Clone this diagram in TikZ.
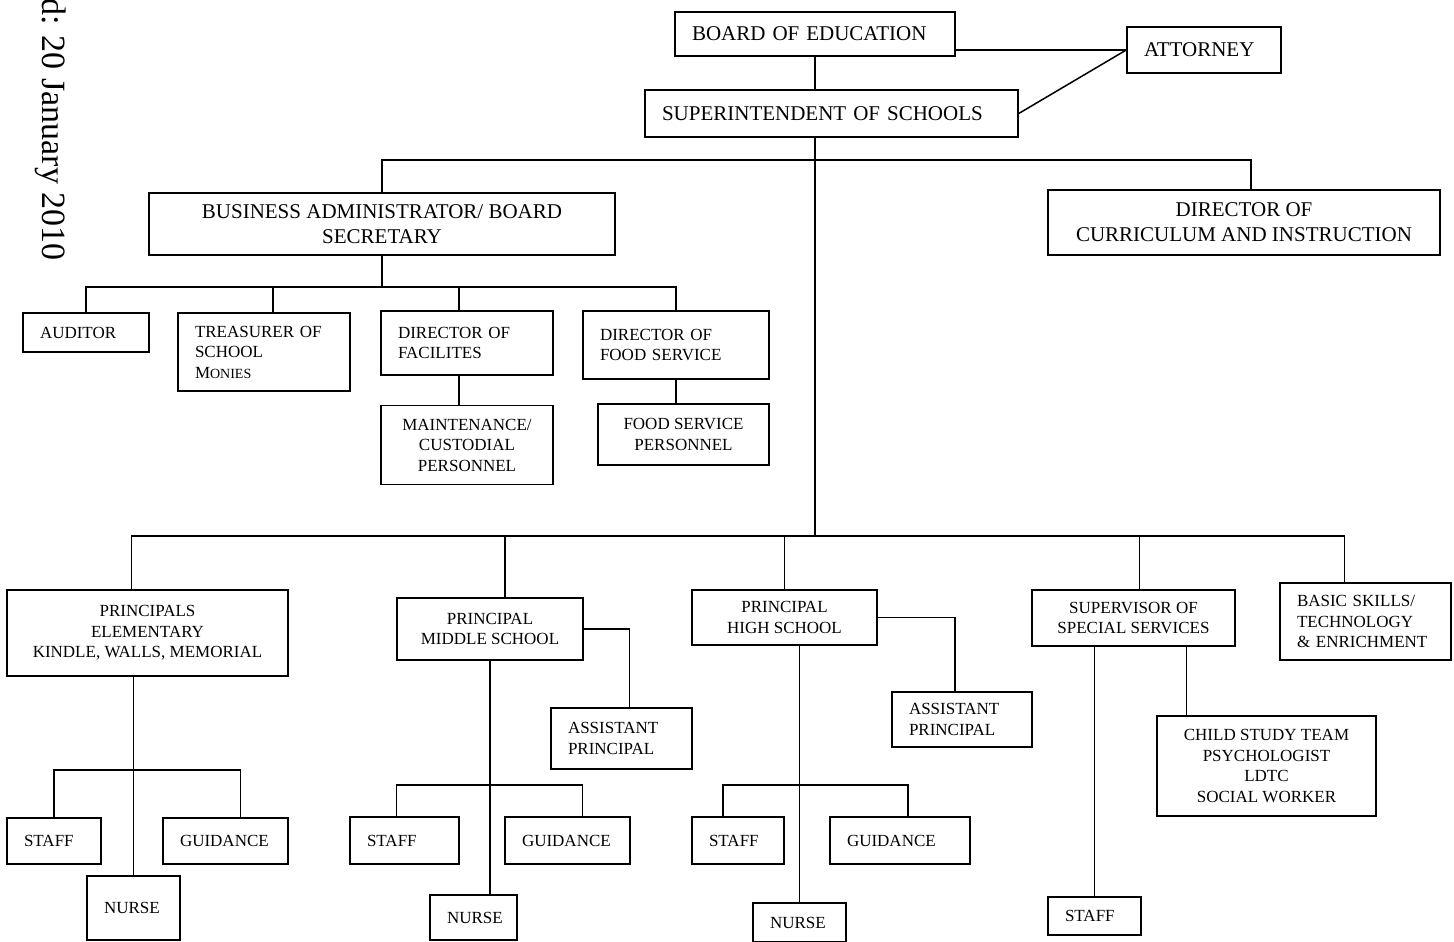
\documentclass[tikz,border=0pt]{standalone}
\usepackage{fontspec}
\setmainfont{Liberation Serif}
\usetikzlibrary{positioning}
\newcommand{\boxbig}{\fontsize{21}{25}\selectfont}
\newcommand{\boxsmall}{\fontsize{17}{20.5}\selectfont}

\begin{document}
\begin{tikzpicture}[
    x=1pt, y=-1pt,
    box/.style={draw, line width=1.5pt, inner sep=0pt, align=center, font=\boxsmall},
    bigbox/.style={box, font=\boxbig},
    lbox/.style={box, align=left, inner xsep=17pt},
    lbig/.style={lbox, font=\boxbig},
    link/.style={line width=1.5pt},
]
    \useasboundingbox (0,0) rectangle (1454,942);

    % ====== Date stamp ======
    \node[rotate=-90, anchor=base west, inner sep=0pt, font=\fontsize{34}{34}\selectfont] (date) at (42,-2) {d: 20 January 2010};

    % ====== Board and superintendent ======
    \node[lbig, minimum width=280pt, minimum height=44pt, text width=246pt] (board) at (815,34) {BOARD OF EDUCATION};
    \node[lbig, minimum width=154pt, minimum height=46pt, text width=120pt] (attorney) at (1204,50) {ATTORNEY};
    \node[lbig, minimum width=373pt, minimum height=47pt, text width=339pt] (super) at (831.5,113.5) {SUPERINTENDENT OF SCHOOLS};

    \node[bigbox, minimum width=466pt, minimum height=62pt] (business) at (382,224) {BUSINESS ADMINISTRATOR/ BOARD\\SECRETARY};
    \node[bigbox, minimum width=392pt, minimum height=65pt] (curric) at (1244,222.5) {DIRECTOR OF\\CURRICULUM AND INSTRUCTION};

    % ====== Business office ======
    \node[lbox, minimum width=126pt, minimum height=39pt, text width=92pt] (auditor) at (86,332.5) {AUDITOR};
    \node[lbox, minimum width=172pt, minimum height=78pt, text width=138pt] (treasurer) at (264,352) {TREASURER OF\\SCHOOL\\M{\fontsize{14}{20.5}\selectfont ONIES}};
    \node[lbox, minimum width=172pt, minimum height=64pt, text width=138pt] (facil) at (467,343) {DIRECTOR OF\\FACILITES};
    \node[lbox, minimum width=186pt, minimum height=68pt, text width=152pt] (foodsvc) at (676,345) {DIRECTOR OF\\FOOD SERVICE};
    \node[box, minimum width=172pt, minimum height=79pt, below=29pt of facil] (maint) {MAINTENANCE/\\CUSTODIAL\\PERSONNEL};
    \node[box, minimum width=171pt, minimum height=61pt] (foodpers) at (683.5,434.5) {FOOD SERVICE\\PERSONNEL};

    % ====== Schools ======
    \node[box, minimum width=281pt, minimum height=86pt] (elem) at (147.5,633) {PRINCIPALS\\ELEMENTARY\\KINDLE, WALLS, MEMORIAL};
    \node[lbox, minimum width=94pt, minimum height=46pt, text width=60pt] (estaff) at (54,841) {STAFF};
    \node[lbox, minimum width=125pt, minimum height=46pt, text width=91pt] (eguid) at (225.5,841) {GUIDANCE};
    \node[lbox, minimum width=93pt, minimum height=64pt, text width=59pt] (enurse) at (133.5,908) {NURSE};

    \node[box, minimum width=186pt, minimum height=62pt] (middle) at (490,629) {PRINCIPAL\\MIDDLE SCHOOL};
    \node[lbox, minimum width=141pt, minimum height=61pt, text width=107pt] (massist) at (621.5,738.5) {ASSISTANT\\PRINCIPAL};
    \node[lbox, minimum width=109pt, minimum height=47pt, text width=75pt] (mstaff) at (404.5,840.5) {STAFF};
    \node[lbox, minimum width=125pt, minimum height=47pt, text width=91pt] (mguid) at (567.5,840.5) {GUIDANCE};
    \node[lbox, minimum width=87pt, minimum height=45pt, text width=53pt] (mnurse) at (473.5,917.5) {NURSE};

    \node[box, minimum width=185pt, minimum height=55pt] (high) at (784.5,617.5) {PRINCIPAL\\HIGH SCHOOL};
    \node[lbox, minimum width=140pt, minimum height=55pt, text width=106pt] (hassist) at (962,719.5) {ASSISTANT\\PRINCIPAL};
    \node[lbox, minimum width=92pt, minimum height=47pt, text width=58pt] (hstaff) at (738,840.5) {STAFF};
    \node[lbox, minimum width=140pt, minimum height=47pt, text width=106pt] (hguid) at (900,840.5) {GUIDANCE};
    \node[lbox, minimum width=93pt, minimum height=39pt, text width=59pt] (hnurse) at (799.5,922.5) {NURSE};

    \node[box, minimum width=203pt, minimum height=56pt] (special) at (1133.5,618) {SUPERVISOR OF\\SPECIAL SERVICES};
    \node[lbox, minimum width=93pt, minimum height=38pt, text width=59pt] (sstaff) at (1094.5,916) {STAFF};
    \node[box, minimum width=219pt, minimum height=100pt] (cst) at (1266.5,766) {CHILD STUDY TEAM\\PSYCHOLOGIST\\LDTC\\SOCIAL WORKER};
    \node[lbox, minimum width=171pt, minimum height=77pt, text width=137pt] (basic) at (1365.5,621.5) {BASIC SKILLS/\\TECHNOLOGY\\\& ENRICHMENT};

    % ====== Connectors ======
    \coordinate (topbus) at (815,160);
    \coordinate (bizbus) at (382,287);
    \coordinate (lowbus) at (815,536);
    \coordinate (ebus) at (133,770);
    \coordinate (mbus) at (490,785);
    \coordinate (hbus) at (800,785);

    \draw[link] (board.south) -- (board.south |- super.north);
    \draw[link] (attorney.west -| board.east) -- (attorney.west);
    \draw[link] (super.east) -- (attorney.west);
    \draw[link] (board.south |- super.south) -- (lowbus);
    \draw[link] (business.north) |- (topbus) -| ([xshift=7pt]curric.north);

    \draw[link] (business.south) -- (bizbus);
    \draw[link] (auditor.north) |- (bizbus) -| (foodsvc.north);
    \draw[link] ([xshift=9pt]treasurer.north) -- ([xshift=9pt]treasurer.north |- bizbus);
    \draw[link] ([xshift=-8pt]facil.north) -- ([xshift=-8pt]facil.north |- bizbus);
    \draw[link] ([xshift=-8pt]facil.south) -- ([xshift=-8pt]maint.north);
    \draw[link] (foodsvc.south) -- (foodsvc.south |- foodpers.north);

    \draw[link] ([xshift=-16pt]elem.north) |- (lowbus) -| ([xshift=-21pt]basic.north);
    \foreach \n/\dx in {middle/15, high/0, special/6}
        \draw[link] ([xshift=\dx pt]\n.north) -- ([xshift=\dx pt]\n.north |- lowbus);

    \draw[link] (enurse.north |- elem.south) -- (enurse.north);
    \draw[link] (estaff.north) |- (ebus) -| ([xshift=15pt]eguid.north);

    \draw[link] (middle.east) -| ([xshift=8pt]massist.north);
    \draw[link] (middle.south) -- (middle.south |- mnurse.north);
    \draw[link] ([xshift=-8pt]mstaff.north) |- (mbus) -| ([xshift=15pt]mguid.north);

    \draw[link] (high.east) -| ([xshift=-7pt]hassist.north);
    \draw[link] (hnurse.north |- high.south) -- (hnurse.north);
    \draw[link] ([xshift=-15pt]hstaff.north) |- (hbus) -| ([xshift=8pt]hguid.north);

    \draw[link] (sstaff.north |- special.south) -- (sstaff.north);
    \draw[link] ([xshift=-80pt]cst.north) -- ([xshift=-80pt]cst.north |- special.south);
\end{tikzpicture}
\end{document}
